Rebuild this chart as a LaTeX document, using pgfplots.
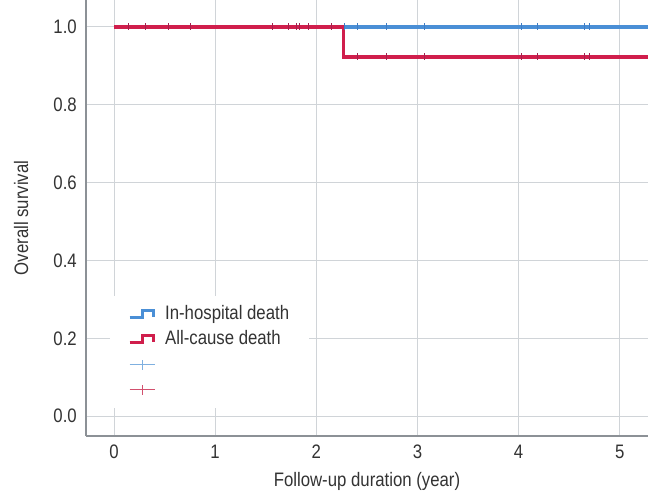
\documentclass[border=0pt]{standalone}
\usepackage{fontspec}
\setmainfont[FakeStretch=0.86]{Liberation Sans}
\usepackage{pgfplots}
\pgfplotsset{compat=1.18}
\definecolor{kmblue}{HTML}{4A8FD6}
\definecolor{kmred}{HTML}{D01E4C}
\definecolor{cblue}{HTML}{3F7CC4}
\definecolor{cred}{HTML}{A3204E}
\definecolor{lblue}{HTML}{7FB0E0}
\definecolor{lred}{HTML}{D2506E}
\definecolor{gridc}{HTML}{D0D4D8}
\definecolor{spinec}{HTML}{8C9196}
\definecolor{txt}{HTML}{333333}
\begin{document}
\fontsize{19.5bp}{23bp}\selectfont
\begin{tikzpicture}
\begin{axis}[
  name=ax,
  scale only axis, width=562bp, height=436bp,
  xmin=-0.277, xmax=5.28, ymin=-0.051, ymax=1.069,
  axis lines*=left,
  axis line style={spinec, line width=1.3bp},
  xtick={0,1,2,3,4,5}, xticklabels={0,1,2,3,4,5},
  ytick={0,0.2,0.4,0.6,0.8,1.0}, yticklabels={0.0,0.2,0.4,0.6,0.8,1.0},
  /pgf/number format/assume math mode=true,
  grid=major, major grid style={gridc, line width=1bp},
  major tick length=0pt,
  tick label style={text=txt},
  xticklabel style={yshift=-2.5bp},
  yticklabel style={xshift=-2.5bp},
  xlabel={Follow-up duration (year)}, ylabel={Overall survival},
  ylabel shift=12bp,
  label style={text=txt},
  legend cell align=left,
  legend style={at={(axis cs:-0.04,0.308)}, anchor=north west, draw=none, fill=white,
    inner xsep=18bp, inner ysep=7bp, row sep=2bp, column sep=8bp, text=txt,
    nodes={inner sep=2bp, text height=14bp, text depth=5bp}},
]
\addplot[kmblue, line width=3.5bp,
  legend image code/.code={\draw[line width=3bp, line join=miter] (0bp,-3bp) -- (13bp,-3bp) -- (13bp,4bp) -- (24bp,4bp) -- (24bp,-2bp);}]
  coordinates {(0,1) (5.35,1)};
\addlegendentry{In-hospital death}
\addplot[kmred, line width=3.5bp, line join=miter,
  legend image code/.code={\draw[line width=3bp, line join=miter] (0bp,-3bp) -- (13bp,-3bp) -- (13bp,4bp) -- (24bp,4bp) -- (24bp,-2bp);}]
  coordinates {(0,1) (2.27,1) (2.27,0.923) (5.35,0.923)};
\addlegendentry{All-cause death}
\addplot[only marks, mark=|, mark size=3.5bp, color=cblue, mark options={line width=1bp},
  legend image code/.code={\draw[lblue, line width=1bp] (0bp,0bp) -- (25bp,0bp); \draw[lblue, line width=1bp] (12.5bp,-5bp) -- (12.5bp,5bp);}]
  coordinates {(0.14,1) (0.31,1) (0.54,1) (0.76,1) (1.565,1) (1.73,1) (1.80,1) (1.83,1) (1.92,1) (2.15,1) (2.28,1)
   (2.41,1) (2.69,1) (3.07,1) (4.03,1) (4.19,1) (4.65,1) (4.70,1)};
\addlegendentry{}
\addplot[only marks, mark=|, mark size=3.5bp, color=cred, mark options={line width=1bp},
  legend image code/.code={\draw[lred, line width=1bp] (0bp,0bp) -- (25bp,0bp); \draw[lred, line width=1bp] (12.5bp,-5bp) -- (12.5bp,5bp);}]
  coordinates {(0.14,1) (0.31,1) (0.54,1) (0.76,1) (1.565,1) (1.73,1) (1.80,1) (1.83,1) (1.92,1) (2.15,1)
   (2.41,0.923) (2.69,0.923) (3.07,0.923) (4.03,0.923) (4.19,0.923) (4.65,0.923) (4.70,0.923)};
\addlegendentry{}
\end{axis}
\pgfresetboundingbox
\path[use as bounding box] (ax.south west) ++(-86bp,-56bp) rectangle ++(648bp,492bp);
\end{tikzpicture}
\end{document}
